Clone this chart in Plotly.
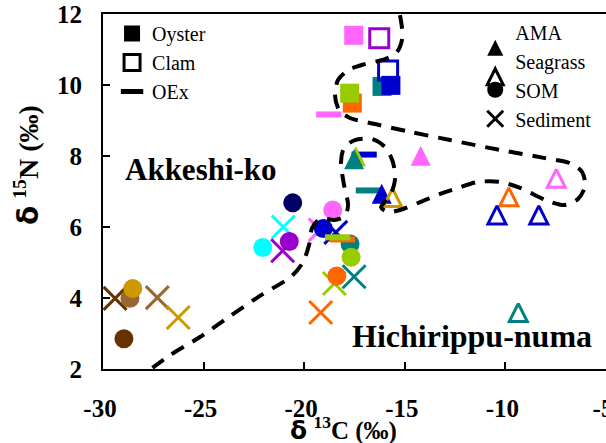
import plotly.graph_objects as go

# Palette used for the sampling sites
PINK = "#FF66FF"
GREEN = "#99CC00"
ORANGE = "#FF6600"
TEAL = "#008080"
BLUE = "#0000CC"
PURPLE = "#9900CC"
NAVY = "#000066"
CYAN = "#00FFFF"
GOLD = "#CC9900"
LBROWN = "#996633"
DBROWN = "#663300"

# Axis ticks
x_ticks = [-30, -25, -20, -15, -10, -5]
x_ticklabels = ["-30", "-25", "-20", "-15", "-10", "-5"]
y_ticks = [2, 4, 6, 8, 10, 12]
y_ticklabels = ["2", "4", "6", "8", "10", "12"]

# Oyster (filled squares)
oyster_c13 = [-17.54, -17.61, -17.74, -16.13, -15.69]
oyster_n15 = [11.40, 9.49, 9.77, 9.96, 9.99]
oyster_col = [PINK, ORANGE, GREEN, TEAL, BLUE]

# Clam (open squares)
clam_c13 = [-16.27, -15.83]
clam_n15 = [11.32, 10.41]
clam_col = [PURPLE, BLUE]

# OEx (bars)
oex_c13 = [-18.78, -17.02, -16.81, -18.10, -18.34]
oex_n15 = [9.17, 8.04, 7.03, 5.65, 5.71]
oex_col = [PINK, BLUE, TEAL, ORANGE, GREEN]

# AMA (filled triangles)
ama_c13 = [-17.43, -17.52, -14.21, -16.15]
ama_n15 = [7.99, 7.91, 8.01, 6.94]
ama_col = [GREEN, TEAL, PINK, BLUE]

# Seagrass (open triangles)
sg_c13 = [-15.61, -7.47, -9.83, -10.42, -8.34, -9.36]
sg_n15 = [6.83, 7.37, 6.85, 6.34, 6.34, 3.59]
sg_col = [GOLD, PINK, ORANGE, BLUE, BLUE, TEAL]

# SOM (circles)
som_c13 = [-20.57, -18.58, -19.05, -17.72, -17.67, -18.38, -20.74, -22.06, -28.66, -28.52, -28.96]
som_n15 = [6.68, 6.48, 5.96, 5.52, 5.15, 4.62, 5.59, 5.42, 3.99, 4.27, 2.85]
som_col = [NAVY, PINK, BLUE, TEAL, GREEN, ORANGE, PURPLE, CYAN, LBROWN, GOLD, DBROWN]

# Sediment (crosses)
sed_c13 = [-21.04, -21.07, -19.21, -18.43, -18.50, -17.52, -19.18, -29.40, -27.30, -26.26]
sed_n15 = [6.00, 5.33, 5.92, 5.85, 4.41, 4.60, 3.59, 3.99, 4.01, 3.45]
sed_col = [CYAN, PURPLE, PINK, BLUE, GREEN, TEAL, ORANGE, DBROWN, LBROWN, GOLD]

# Hand-drawn region boundary (delta13C, delta15N)
bound_c13 = [-15.24, -15.14, -15.14, -15.39, -15.98, -16.98, -17.82, -18.32, -18.47, -18.27,
             -17.72, -16.48, -14.74, -12.75, -10.27, -8.03, -6.79, -6.19, -6.04, -6.39,
             -7.04, -7.88, -9.27, -10.27, -11.36, -12.36, -13.25, -14.24, -15.24, -15.83,
             -16.18, -15.74, -15.49, -15.59, -15.98, -16.63, -17.48, -18.02, -18.17, -18.02,
             -17.82, -17.97, -18.47, -19.21, -19.61, -19.76, -20.06, -20.61, -22.20, -23.69,
             -25.18, -26.67, -28.16]
bound_n15 = [11.97, 11.61, 11.27, 10.93, 10.73, 10.59, 10.42, 10.14, 9.72, 9.30,
             9.07, 8.90, 8.68, 8.45, 8.17, 7.94, 7.80, 7.55, 7.15, 6.79,
             6.62, 6.73, 7.10, 7.27, 7.27, 7.10, 6.93, 6.70, 6.48, 6.42,
             6.56, 6.87, 7.32, 7.83, 8.25, 8.48, 8.45, 8.23, 7.83, 7.18,
             6.62, 6.31, 6.20, 6.23, 5.97, 5.49, 5.01, 4.62, 4.06, 3.49,
             2.90, 2.39, 1.77]

SERIF = "Liberation Serif"

fig = go.Figure()

def pts(x, y, **marker):
    fig.add_trace(go.Scatter(x=x, y=y, mode="markers", marker=marker,
                             showlegend=False, hoverinfo="skip", cliponaxis=False))

pts(oyster_c13, oyster_n15, symbol="square", size=19, color=oyster_col, line=dict(width=0))
pts(clam_c13, clam_n15, symbol="square-open", size=19, color=clam_col, line=dict(width=3, color=clam_col))
pts(sed_c13, sed_n15, symbol="x-thin-open", size=23, color=sed_col, line=dict(width=3, color=sed_col))
pts(som_c13, som_n15, symbol="circle", size=19, color=som_col, line=dict(width=0))
pts(oex_c13, oex_n15, symbol="line-ew-open", size=18, color=oex_col, line=dict(width=6, color=oex_col))
pts(ama_c13, ama_n15, symbol="arrow-down", angle=180, standoff=10, size=20, color=ama_col, line=dict(width=0))
pts(sg_c13, sg_n15, symbol="arrow-down-open", angle=180, standoff=9, size=18, color=sg_col, line=dict(width=3, color=sg_col))

fig.add_trace(go.Scatter(x=bound_c13, y=bound_n15, mode="lines",
                         line=dict(color="black", width=4, dash="14px,10px", shape="spline", smoothing=0.8),
                         showlegend=False, hoverinfo="skip", cliponaxis=False))

# Legend entries
def leg(name, group, **marker):
    fig.add_trace(go.Scatter(x=[None], y=[None], mode="markers", name=name, legend=group, marker=marker))

leg("Oyster", "legend", symbol="square", size=16, color="black")
leg("Clam", "legend", symbol="square-open", size=16, color="black", line=dict(width=3, color="black"))
leg("OEx", "legend", symbol="line-ew", size=16, color="black", line=dict(width=5, color="black"))
leg("AMA", "legend2", symbol="arrow-down", angle=180, standoff=8, size=16, color="black")
leg("Seagrass", "legend2", symbol="arrow-down-open", angle=180, standoff=8, size=16, color="black", line=dict(width=3, color="black"))
leg("SOM", "legend2", symbol="circle", size=16, color="black")
leg("Sediment", "legend2", symbol="x-thin-open", size=16, color="black", line=dict(width=3, color="black"))

legend_style = dict(xanchor="left", yanchor="top", bgcolor="rgba(0,0,0,0)", tracegroupgap=0,
                    font=dict(family=SERIF, size=20, color="black"))

axis_common = dict(showgrid=False, zeroline=False, showline=True, linecolor="black", linewidth=2,
                   ticks="inside", ticklen=7, tickwidth=2, tickcolor="black", ticklabeloverflow="allow",
                   automargin=False, tickfont=dict(family=SERIF, size=25, color="black", weight="bold"))

fig.update_layout(
    width=606, height=443,
    margin=dict(l=103, r=0, t=14, b=74, autoexpand=False),
    paper_bgcolor="white", plot_bgcolor="white",
    xaxis=dict(range=[-30, -5], tickmode="array", tickvals=x_ticks,
               ticktext=["<b>%s</b>" % t for t in x_ticklabels],
               mirror=True, ticklabelstandoff=16, ticklabelshift=-3, **axis_common),
    yaxis=dict(range=[2, 12], tickmode="array", tickvals=y_ticks,
               ticktext=["<b>%s</b>" % t for t in y_ticklabels], ticklabelstandoff=14, **axis_common),
    legend=dict(x=0.018, y=1.0, **legend_style),
    legend2=dict(x=0.74, y=1.005, **legend_style),
    annotations=[
        dict(x=-25.15, y=7.62, xref="x", yref="y", text="<b>Akkeshi-ko</b>", showarrow=False,
             font=dict(family=SERIF, size=31, color="black")),
        dict(x=-11.66, y=2.92, xref="x", yref="y", text="<b>Hichirippu-numa</b>", showarrow=False,
             font=dict(family=SERIF, size=32, color="black")),
        dict(x=0.479, y=-0.168, xref="paper", yref="paper", xanchor="center", yanchor="middle",
             showarrow=False,
             text="<b><span style='font-family:DejaVu Sans'>δ</span> <sup>13</sup>C (‰)</b>",
             font=dict(family=SERIF, size=25, color="black")),
        dict(x=-0.151, y=0.575, xref="paper", yref="paper", xanchor="center", yanchor="middle",
             showarrow=False, textangle=-90,
             text="<b><span style='font-family:DejaVu Sans'>δ</span> <sup>15</sup>N (‰)</b>",
             font=dict(family=SERIF, size=28, color="black")),
    ],
)

fig.write_html("out.html")
